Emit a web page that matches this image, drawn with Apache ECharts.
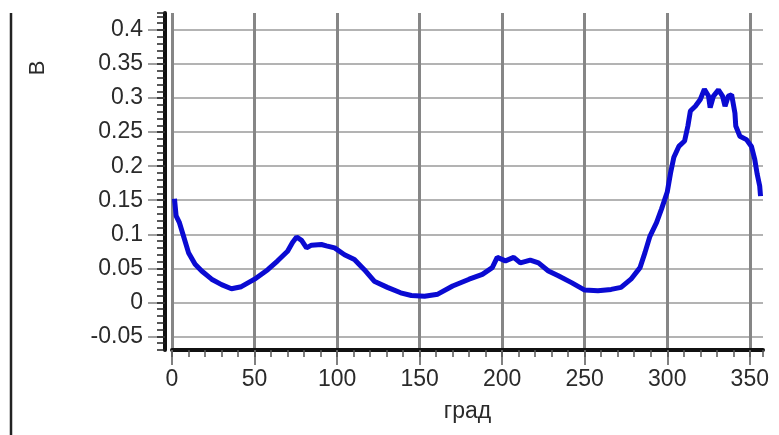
<!DOCTYPE html>
<html>
<head>
<meta charset="utf-8">
<script src="https://cdn.jsdelivr.net/npm/echarts@6/dist/echarts.min.js"></script>
<style>
  html, body { margin: 0; padding: 0; background: #fff; }
  #chart { width: 779px; height: 435px; }
</style>
</head>
<body>
<div id="chart"></div>
<script>
  // угол, град
  const degrees = [1.5, 2.5, 4.5, 7, 10, 14, 18, 24, 30, 36, 42, 50, 58, 64, 70, 73, 75.5, 78.5, 81.5, 84.5,
    90.5, 93.5, 98.5, 104.5, 110.5, 116.5, 122.5, 130.5, 138.5, 145, 153, 161, 170, 180, 188, 194, 197, 202,
    207, 211, 217, 222, 228, 234, 242, 250, 258, 266, 272, 278, 283.5, 286.5, 289.5, 293.5, 296.5, 300, 302,
    304, 307, 310.5, 312.5, 314, 317, 320, 322.5, 325, 326, 328, 331, 333.5, 335, 337, 339, 341, 341.5, 344,
    348, 351, 353, 354.5, 356, 356.5]
  // напряжение, В
  const volts = [0.152, 0.127, 0.117, 0.097, 0.073, 0.056, 0.046, 0.034, 0.026, 0.020, 0.023, 0.034, 0.048,
    0.061, 0.075, 0.088, 0.096, 0.091, 0.080, 0.084, 0.085, 0.083, 0.080, 0.070, 0.063, 0.048, 0.031, 0.022,
    0.014, 0.010, 0.009, 0.012, 0.024, 0.034, 0.041, 0.051, 0.066, 0.061, 0.066, 0.058, 0.062, 0.058, 0.046,
    0.039, 0.029, 0.018, 0.017, 0.019, 0.022, 0.034, 0.051, 0.073, 0.097, 0.117, 0.137, 0.162, 0.190, 0.213,
    0.229, 0.237, 0.259, 0.281, 0.288, 0.298, 0.313, 0.303, 0.286, 0.303, 0.312, 0.303, 0.288, 0.303, 0.305,
    0.278, 0.259, 0.244, 0.239, 0.229, 0.210, 0.188, 0.171, 0.156]
  const xTicks = [0, 50, 100, 150, 200, 250, 300, 350]
  const yTicks = [-0.05, 0, 0.05, 0.1, 0.15, 0.2, 0.25, 0.3, 0.35, 0.4]

  const fontFamily = '"Liberation Sans", Arial, sans-serif'
  const textColor = '#2a2a2a'

  const isMultiple = (v, step) => Math.abs(v / step - Math.round(v / step)) < 1e-6

  var chart = echarts.init(document.getElementById('chart'))
  chart.setOption({
    animation: false,
    backgroundColor: '#fff',
    grid: {
      left: 172,
      right: 16,
      top: 13,
      bottom: 85,
      containLabel: false,
      outerBoundsMode: 'none'
    },
    xAxis: [{
      type: 'value',
      min: 0,
      max: 358,
      interval: 50,
      name: 'град',
      nameLocation: 'middle',
      nameGap: 50,
      nameTextStyle: { fontFamily: fontFamily, fontSize: 23, color: textColor },
      axisLine: { show: true, onZero: false, lineStyle: { color: '#111', width: 4 } },
      axisTick: { show: true, length: 15, customValues: xTicks, lineStyle: { color: '#808080', width: 2 } },
      axisLabel: {
        margin: 18,
        fontFamily: fontFamily,
        fontSize: 23,
        color: textColor,
        customValues: xTicks,
        formatter: v => isMultiple(v, 50) ? String(v) : ''
      },
      splitLine: { show: true, lineStyle: { color: '#868686', width: 3 } }
    }, {
      // мелкие деления по оси X
      type: 'value',
      position: 'bottom',
      min: 0,
      max: 358,
      interval: 10,
      axisLine: { show: false, onZero: false },
      axisTick: { show: true, length: 7, lineStyle: { color: '#555', width: 1.5 } },
      axisLabel: { show: false },
      splitLine: { show: false }
    }],
    yAxis: [{
      type: 'value',
      min: -0.07,
      max: 0.425,
      splitNumber: 10,
      offset: 7,
      axisLine: { show: true, onZero: false, lineStyle: { color: '#111', width: 4 } },
      axisTick: { show: true, length: 17, customValues: yTicks, lineStyle: { color: '#808080', width: 1.5 } },
      axisLabel: {
        margin: 22,
        fontFamily: fontFamily,
        fontSize: 23,
        color: textColor,
        customValues: yTicks,
        formatter: v => isMultiple(v, 0.05) ? String(Math.round(v * 100) / 100) : ''
      },
      splitLine: { show: true, lineStyle: { color: '#9a9a9a', width: 1.5 } }
    }, {
      // мелкие деления по оси Y
      type: 'value',
      position: 'left',
      min: -0.07,
      max: 0.425,
      interval: 0.01,
      offset: 7,
      axisLine: { show: false, onZero: false },
      axisTick: { show: true, length: 8, lineStyle: { color: '#222', width: 1.5 } },
      axisLabel: { show: false },
      splitLine: { show: false }
    }],
    graphic: [{
      type: 'line',
      shape: { x1: 11, y1: 13, x2: 11, y2: 435 },
      style: { stroke: '#222', lineWidth: 2.5 }
    }, {
      type: 'text',
      x: 38,
      y: 68,
      rotation: Math.PI / 2,
      style: {
        text: 'В',
        fontFamily: fontFamily,
        fontSize: 22,
        fill: textColor,
        align: 'center',
        verticalAlign: 'middle'
      }
    }],
    series: [{
      type: 'line',
      xAxisIndex: 0,
      yAxisIndex: 0,
      data: degrees.map((d, i) => [d, volts[i]]),
      showSymbol: false,
      lineStyle: { color: '#0a0ad2', width: 5 },
      itemStyle: { color: '#0a0ad2' }
    }]
  })
</script>
</body>
</html>
